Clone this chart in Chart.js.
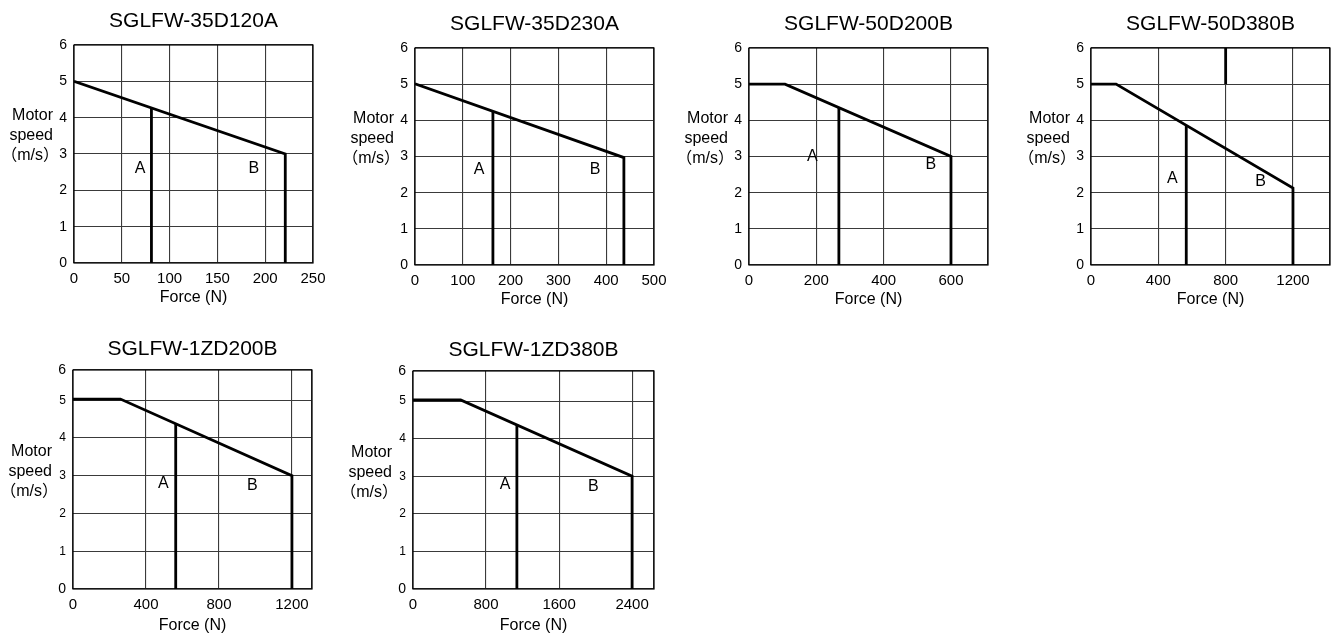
<!DOCTYPE html>
<html>
<head>
<meta charset="utf-8">
<script src="https://cdn.jsdelivr.net/npm/chart.js@4.4.1/dist/chart.umd.min.js"></script>
<style>
  body { margin: 0; background: #fff; width: 1334px; height: 635px; overflow: hidden; position: relative; }
  .box { position: absolute; }
</style>
</head>
<body>
<script>
// speed-force curves, one small chart per motor model

var FONT = '"Liberation Sans", Arial, "Noto Sans CJK SC", sans-serif';

var titles = ['SGLFW-35D120A', 'SGLFW-35D230A', 'SGLFW-50D200B', 'SGLFW-50D380B', 'SGLFW-1ZD200B', 'SGLFW-1ZD380B'];

// axis ranges
var forceMax  = [250, 500, 710, 1420, 1310, 2640];
var forceStep = [50, 100, 200, 400, 400, 800];
var speedMax  = [6, 6, 6, 6, 5.8, 5.8];

// envelope of region B (force, speed), drops to 0 at its last force
var envForce = [[0, 221], [0, 437], [0, 107, 600], [0, 149, 1200], [0, 260, 1200], [0, 522, 2400]];
var envSpeed = [[5, 3], [5.01, 2.97], [5, 5, 3], [5, 5, 2.13], [5.03, 5.03, 3], [5.03, 5.03, 3]];

// continuous limit (region A)
var aForce = [81, 163, 267, 566, 563, 1138];
var aSpeed = [4.27, 4.23, 4.35, 3.87, 4.37, 4.38];

// short stray mark on the 50D380B chart
var markForce = 800;
var markSpeed = [5, 6];

// where the A / B letters sit (force, speed)
var labelA = [[69, 2.61], [134, 2.63], [188, 3.01], [483, 2.38], [495, 2.79], [1008, 2.79]];
var labelB = [[188, 2.61], [377, 2.63], [540, 2.79], [1008, 2.30], [983, 2.73], [1975, 2.73]];

// page layout: plot rectangles [left, top, right, bottom]
var plotBox = [[74, 45, 313, 263], [415, 48, 654, 265], [749, 48, 988, 265], [1091, 48, 1330, 265],
               [73, 370, 312, 589], [413, 371, 654, 589]];
var YW = 72, XH = 50, PADT = 48;

// ticks at every step plus the axis end (Chart.js merges a near end tick otherwise)
function stepTicks(step) {
  return function(s) {
    var t = [];
    for (var v = 0; v <= s.max + 1e-9; v += step) t.push({value: v});
    if (Math.abs(t[t.length - 1].value - s.max) > 1e-9) t.push({value: s.max});
    s.ticks = t;
  };
}

var deco = {
  id: 'deco',
  beforeDatasetsDraw: function(chart) {
    var a = chart.chartArea, c = chart.ctx;
    c.save();
    c.strokeStyle = '#000';
    c.lineWidth = 1.2;
    c.strokeRect(a.left, a.top, a.right - a.left, a.bottom - a.top);
    c.restore();
  },
  afterDraw: function(chart) {
    var a = chart.chartArea, c = chart.ctx, o = chart.options.plugins.deco;
    var sx = chart.scales.x, sy = chart.scales.y;
    c.save();
    c.fillStyle = '#000';
    // title
    c.font = '21px ' + FONT;
    c.textAlign = 'center';
    c.textBaseline = 'alphabetic';
    c.fillText(o.title, (a.left + a.right) / 2, a.top - o.titleGap);
    // y axis label, horizontal
    c.font = '16px ' + FONT;
    c.textAlign = 'right';
    c.textBaseline = 'middle';
    var yl = a.top + o.ylabTop;
    c.fillText('Motor', a.left - 21, yl);
    c.fillText('speed', a.left - 21, yl + 20);
    c.fillText('（m/s）', a.left - 15, yl + 40);
    // region letters
    c.textAlign = 'center';
    c.fillText('A', sx.getPixelForValue(o.a[0]), sy.getPixelForValue(o.a[1]));
    c.fillText('B', sx.getPixelForValue(o.b[0]), sy.getPixelForValue(o.b[1]));
    c.restore();
  }
};

titles.forEach(function(title, i) {
  var box = plotBox[i];
  var row2 = i >= 4;
  var padR = Math.min(15, 1334 - box[2]);

  var div = document.createElement('div');
  div.className = 'box';
  div.style.left = (box[0] - YW) + 'px';
  div.style.top = (box[1] - PADT) + 'px';
  div.style.width = (box[2] - box[0] + YW + padR) + 'px';
  div.style.height = (box[3] - box[1] + PADT + XH) + 'px';
  var cv = document.createElement('canvas');
  div.appendChild(cv);
  document.body.appendChild(div);

  var last = envForce[i].length - 1;
  var env = envForce[i].map(function(f, k) { return {x: f, y: envSpeed[i][k]}; });
  env.push({x: envForce[i][last], y: 0});

  var datasets = [
    {data: env},
    {data: [{x: aForce[i], y: aSpeed[i]}, {x: aForce[i], y: 0}]}
  ];
  if (i === 3) datasets.push({data: [{x: markForce, y: markSpeed[0]}, {x: markForce, y: markSpeed[1]}]});
  datasets.forEach(function(d) {
    d.showLine = true;
    d.borderColor = '#000';
    d.borderWidth = 2.8;
    d.pointRadius = 0;
    d.borderJoinStyle = 'miter';
    d.borderCapStyle = 'butt';
  });

  new Chart(cv, {
    type: 'scatter',
    data: {datasets: datasets},
    options: {
      responsive: true,
      maintainAspectRatio: false,
      animation: false,
      layout: {padding: {top: PADT, right: padR, bottom: 0, left: 0}},
      plugins: {
        legend: {display: false},
        tooltip: {enabled: false},
        deco: {title: title, titleGap: row2 ? 15 : 18, ylabTop: row2 ? 82 : 71, a: labelA[i], b: labelB[i]}
      },
      scales: {
        x: {
          type: 'linear', min: 0, max: forceMax[i],
          afterBuildTicks: stepTicks(forceStep[i]),
          ticks: {
            autoSkip: false, maxRotation: 0, padding: 7, color: '#000',
            font: {family: FONT, size: 15},
            callback: function(v) { return Math.abs(v % forceStep[i]) < 1e-6 ? String(v) : ''; }
          },
          grid: {color: '#3a3a3a', lineWidth: 1.1, drawTicks: false},
          border: {display: false},
          title: {display: true, text: 'Force (N)', color: '#000', font: {family: FONT, size: 16},
                  padding: {top: 0, bottom: row2 ? 3.4 : 5.4}},
          afterFit: function(s) { s.height = XH; s.paddingLeft = 0; s.paddingRight = 0; }
        },
        y: {
          min: 0, max: speedMax[i],
          afterBuildTicks: stepTicks(1),
          ticks: {
            padding: 7, color: '#000',
            font: function(ctx) {
              var big = !row2 || (ctx.tick && (ctx.tick.value === 0 || ctx.tick.value > 5.5));
              return {family: FONT, size: big ? 14 : 12};
            },
            callback: function(v) { return String(Math.round(v)); }
          },
          grid: {color: '#3a3a3a', lineWidth: 1.1, drawTicks: false},
          border: {display: false},
          afterFit: function(s) { s.width = YW; }
        }
      }
    },
    plugins: [deco]
  });
});
</script>
</body>
</html>
